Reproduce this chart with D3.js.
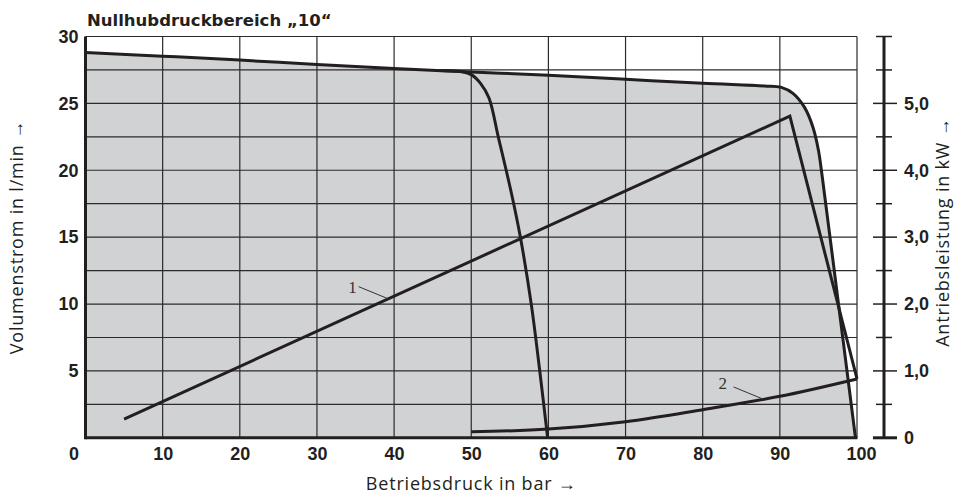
<!DOCTYPE html>
<html>
<head>
<meta charset="utf-8">
<script src="https://cdn.jsdelivr.net/npm/d3@7"></script>
<style>
  body { margin: 0; background: #fff; }
  svg { display: block; }
  .num { font-family: "Liberation Sans", Arial, sans-serif; font-weight: bold; font-size: 18px; fill: #231f20; }
  .ttl { font-family: "Open Sans", "Noto Sans", sans-serif; font-size: 18px; letter-spacing: 0.8px; fill: #231f20; }
</style>
</head>
<body>
<svg id="chart" width="955" height="494"></svg>
<script>
// Achsen
var pressureTicks = [0, 10, 20, 30, 40, 50, 60, 70, 80, 90, 100];
var flowTicks = [5, 10, 15, 20, 25, 30];
var flowGrid = [2.5, 5, 7.5, 10, 12.5, 15, 17.5, 20, 22.5, 25, 27.5, 30];
var powerTicks = [0, 1, 2, 3, 4, 5];
var powerMinor = [0.5, 1.5, 2.5, 3.5, 4.5, 5.5, 6];

// Volumenstrom, max. Kennlinie (bar, l/min)
var qMaxP = [0, 10, 20, 30, 40, 50, 60, 70, 80, 88, 90.2, 91.7, 93.2, 94.3, 95.0, 95.5, 97.6, 99.8];
var qMaxQ = [28.8, 28.53, 28.24, 27.9, 27.6, 27.35, 27.1, 26.8, 26.5, 26.3, 26.2, 25.75, 24.7, 23.2, 21.5, 19.5, 10, 0];

// Volumenstrom, Nullhubdruck 60 bar (bar, l/min)
var q60P = [46, 48.8, 50, 51.2, 52.3, 53.5, 55.2, 56.4, 57.8, 58.9, 59.9];
var q60Q = [27.45, 27.36, 27.15, 26.5, 25.4, 22.5, 18.3, 14.9, 9.9, 4.9, 0];

// Antriebsleistung 1 und 2 (bar, kW)
var power1P = [5, 91.3, 100];
var power1K = [0.28, 4.81, 0.88];
var power2P = [50, 60, 70, 80, 90, 100];
var power2K = [0.09, 0.13, 0.24, 0.42, 0.62, 0.88];

// Beschriftung der Kurven (Text, Hinweislinie von/bis in bar, l/min)
var labelText = ["1", "2"];
var labelAt = [[34.6, 11.27], [82.6, 4.1]];
var leaderFrom = [[35.4, 11.3], [84.0, 3.8]];
var leaderTo = [[39.2, 10.4], [87.8, 2.9]];

var svg = d3.select('#chart');
var ink = '#231f20';

var x = d3.scaleLinear().domain([0, 100]).range([85.5, 857]);
var y = d3.scaleLinear().domain([0, 30]).range([437.8, 36.5]);
var yP = d3.scaleLinear().domain([0, 6]).range([437.8, 36.5]);

var qMax = qMaxP.map(function (p, i) { return [p, qMaxQ[i]]; });
var q60 = q60P.map(function (p, i) { return [p, q60Q[i]]; });
var pw1 = power1P.map(function (p, i) { return [p, power1K[i]]; });
var pw2 = power2P.map(function (p, i) { return [p, power2K[i]]; });

var curve = d3.curveCatmullRom.alpha(0.5);

// grauer Arbeitsbereich
svg.append('path')
    .datum(qMax)
    .attr('d', d3.area()
        .x(function (d) { return x(d[0]); })
        .y0(y(0))
        .y1(function (d) { return y(d[1]); })
        .curve(curve))
    .attr('fill', '#d1d2d4');

// Gitter
var grid = svg.append('g').attr('stroke', '#2b2b2b').attr('stroke-width', 1.2);
grid.selectAll('.v').data(pressureTicks.slice(1)).enter().append('line')
    .attr('x1', function (d) { return x(d); }).attr('x2', function (d) { return x(d); })
    .attr('y1', y(0)).attr('y2', y(30));
grid.selectAll('.h').data(flowGrid).enter().append('line')
    .attr('x1', x(0)).attr('x2', x(100))
    .attr('y1', function (d) { return y(d); }).attr('y2', function (d) { return y(d); });

// Kennlinien
var lineQ = d3.line().x(function (d) { return x(d[0]); }).y(function (d) { return y(d[1]); }).curve(curve);
var lineP = d3.line().x(function (d) { return x(d[0]); }).y(function (d) { return yP(d[1]); });

svg.append('path').datum(qMax).attr('d', lineQ)
    .attr('fill', 'none').attr('stroke', ink).attr('stroke-width', 3);
svg.append('path').datum(q60).attr('d', lineQ)
    .attr('fill', 'none').attr('stroke', ink).attr('stroke-width', 3);
svg.append('path').datum(pw1).attr('d', lineP)
    .attr('fill', 'none').attr('stroke', ink).attr('stroke-width', 3).attr('stroke-linejoin', 'miter');
svg.append('path').datum(pw2).attr('d', lineP.curve(d3.curveMonotoneX))
    .attr('fill', 'none').attr('stroke', ink).attr('stroke-width', 3);

// Hinweislinien 1, 2
labelText.forEach(function (t, i) {
    svg.append('line')
        .attr('x1', x(leaderFrom[i][0])).attr('y1', y(leaderFrom[i][1]))
        .attr('x2', x(leaderTo[i][0])).attr('y2', y(leaderTo[i][1]))
        .attr('stroke', '#333').attr('stroke-width', 1);
    svg.append('text')
        .attr('x', x(labelAt[i][0])).attr('y', y(labelAt[i][1]))
        .attr('dy', '0.35em')
        .attr('text-anchor', 'middle')
        .style('font-family', '"Liberation Serif", serif')
        .style('font-size', '17px')
        .style('fill', '#333')
        .text(t);
});

// linke Achse
var gl = svg.append('g')
    .attr('transform', 'translate(' + x(0) + ',0)')
    .call(d3.axisLeft(y).tickValues(flowTicks).tickSize(0).tickPadding(7));
gl.select('.domain').remove();
gl.selectAll('text').attr('class', 'num').attr('font-family', null).attr('font-size', null);

// untere Achse
var gb = svg.append('g')
    .attr('transform', 'translate(0,' + y(0) + ')')
    .call(d3.axisBottom(x).tickValues(pressureTicks).tickSize(0).tickPadding(9.5));
gb.select('.domain').remove();
gb.selectAll('text').attr('class', 'num').attr('font-family', null).attr('font-size', null);
gb.selectAll('.tick').filter(function (d) { return d === 0; }).select('text').attr('x', -12);
gb.selectAll('.tick').filter(function (d) { return d === 100; }).select('text').attr('x', 4);

svg.append('line').attr('x1', x(0)).attr('x2', x(0)).attr('y1', y(30)).attr('y2', y(0) + 1.5)
    .attr('stroke', ink).attr('stroke-width', 3);
svg.append('line').attr('x1', x(0)).attr('x2', x(100) + 0.5).attr('y1', y(0)).attr('y2', y(0))
    .attr('stroke', ink).attr('stroke-width', 3);

// rechte Achse (Antriebsleistung)
var xr = x(100) + 27;
var gr = svg.append('g')
    .attr('transform', 'translate(' + xr + ',0)')
    .call(d3.axisRight(yP).tickValues(powerTicks).tickSize(0).tickPadding(20)
        .tickFormat(function (d) { return d === 0 ? '0' : d3.format('.1f')(d).replace('.', ','); }));
gr.select('.domain').remove();
gr.selectAll('text').attr('class', 'num').attr('font-family', null).attr('font-size', null);

svg.append('line').attr('x1', xr).attr('x2', xr).attr('y1', yP(6)).attr('y2', yP(0))
    .attr('stroke', ink).attr('stroke-width', 3);
svg.selectAll('.minor').data(powerMinor).enter().append('line')
    .attr('x1', xr - 8).attr('x2', xr + 8)
    .attr('y1', function (d) { return yP(d); }).attr('y2', function (d) { return yP(d); })
    .attr('stroke', ink).attr('stroke-width', 1.5);
svg.selectAll('.major').data(powerTicks).enter().append('line')
    .attr('x1', xr - 11).attr('x2', xr + 13)
    .attr('y1', function (d) { return yP(d); }).attr('y2', function (d) { return yP(d); })
    .attr('stroke', ink).attr('stroke-width', function (d) { return d === 0 ? 3 : 1.5; });

// Titel
svg.append('text')
    .attr('x', 87).attr('y', 26)
    .style('font-family', '"DejaVu Sans", sans-serif')
    .style('font-weight', 'bold')
    .style('font-size', '16.5px')
    .style('fill', ink)
    .text('Nullhubdruckbereich \u201E10\u201C');

svg.append('text').attr('class', 'ttl')
    .attr('x', (x(0) + x(100)) / 2).attr('y', 490)
    .attr('text-anchor', 'middle')
    .text('Betriebsdruck in bar \u2192');

svg.append('text').attr('class', 'ttl')
    .attr('transform', 'translate(23,' + y(15) + ') rotate(-90)')
    .attr('text-anchor', 'middle')
    .text('Volumenstrom in l/min \u2192');

svg.append('text').attr('class', 'ttl')
    .attr('transform', 'translate(949,' + (y(15) - 5) + ') rotate(-90)')
    .attr('text-anchor', 'middle')
    .text('Antriebsleistung in kW \u2192');
</script>
</body>
</html>
